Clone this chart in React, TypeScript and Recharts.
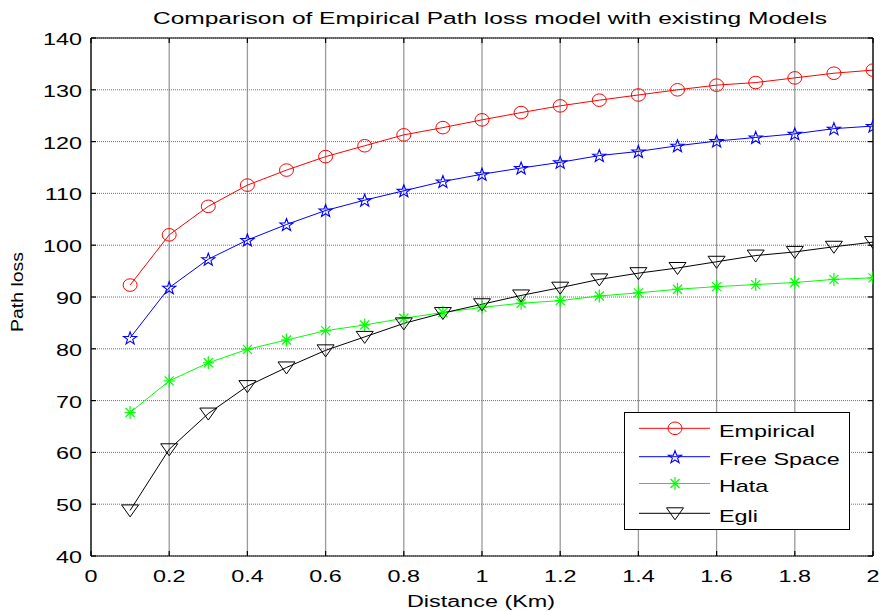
import React from 'react';
import { LineChart, Line, XAxis, YAxis, CartesianGrid, Legend } from 'recharts';

// ---- data ----
const distances = [0.1, 0.2, 0.3, 0.4, 0.5, 0.6, 0.7, 0.8, 0.9, 1.0, 1.1, 1.2, 1.3, 1.4, 1.5, 1.6, 1.7, 1.8, 1.9, 2.0];
const empirical = [92.3, 102.0, 107.5, 111.6, 114.5, 117.1, 119.2, 121.3, 122.7, 124.2, 125.6, 126.9, 128.0, 129.0, 130.0, 130.9, 131.4, 132.3, 133.2, 133.8];
const freeSpace = [82.1, 91.8, 97.3, 101.0, 104.0, 106.7, 108.7, 110.5, 112.3, 113.7, 114.9, 116.0, 117.3, 118.1, 119.2, 120.1, 120.8, 121.5, 122.5, 123.0];
const hata = [67.7, 73.8, 77.3, 79.9, 81.7, 83.5, 84.6, 85.9, 87.0, 88.0, 88.8, 89.3, 90.2, 90.8, 91.5, 92.0, 92.4, 92.8, 93.4, 93.7];
const egli = [48.8, 60.6, 67.5, 72.8, 76.4, 79.7, 82.3, 84.9, 86.9, 88.6, 90.3, 91.8, 93.4, 94.6, 95.6, 96.8, 98.0, 98.7, 99.7, 100.6];

const xTicks = [0, 0.2, 0.4, 0.6, 0.8, 1, 1.2, 1.4, 1.6, 1.8, 2];
const yTicks = [40, 50, 60, 70, 80, 90, 100, 110, 120, 130, 140];

const seriesNames = ['Empirical', 'Free Space', 'Hata', 'Egli'];
const seriesKeys = ['empirical', 'freeSpace', 'hata', 'egli'];
const seriesColors = ['#ff0000', '#0000ff', '#00ff00', '#000000'];
const seriesMarkers = ['circle', 'star', 'asterisk', 'triangle'];

const titleText = 'Comparison of Empirical Path loss model with existing Models';
const xLabel = 'Distance (Km)';
const yLabel = 'Path loss';

const data = distances.map((d, i) => ({
  d,
  empirical: empirical[i],
  freeSpace: freeSpace[i],
  hata: hata[i],
  egli: egli[i],
}));

const FONT = '"Liberation Sans", Arial, Helvetica, sans-serif';
const SX = 1.46;

function marker(kind: string, cx: number, cy: number, color: string, key?: any) {
  if (cx == null || cy == null || isNaN(cx) || isNaN(cy)) return <g key={key} />;
  if (kind === 'circle') {
    return <ellipse key={key} cx={cx} cy={cy} rx={7} ry={6.3} fill="none" stroke={color} strokeWidth={1} />;
  }
  if (kind === 'star') {
    const pts: string[] = [];
    const R = 6.6;
    const r = R * 0.4;
    for (let k = 0; k < 10; k++) {
      const rad = k % 2 === 0 ? R : r;
      const a = -Math.PI / 2 + (k * Math.PI) / 5;
      pts.push(`${(cx + rad * Math.cos(a) * 1.05).toFixed(2)},${(cy + 0.6 + rad * Math.sin(a)).toFixed(2)}`);
    }
    return <polygon key={key} points={pts.join(' ')} fill="none" stroke={color} strokeWidth={1.1} />;
  }
  if (kind === 'asterisk') {
    return (
      <g key={key} stroke={color} strokeWidth={1.2}>
        <line x1={cx} y1={cy - 6.5} x2={cx} y2={cy + 6.5} />
        <line x1={cx - 5.5} y1={cy} x2={cx + 5.5} y2={cy} />
        <line x1={cx - 4.5} y1={cy - 4.5} x2={cx + 4.5} y2={cy + 4.5} />
        <line x1={cx - 4.5} y1={cy + 4.5} x2={cx + 4.5} y2={cy - 4.5} />
      </g>
    );
  }
  // triangle pointing down
  return (
    <polygon
      key={key}
      points={`${cx - 8.5},${cy - 5.5} ${cx + 8.5},${cy - 5.5} ${cx},${cy + 6.5}`}
      fill="none"
      stroke={color}
      strokeWidth={1}
    />
  );
}

const XTick = (props: any) => {
  const { x, y, payload } = props;
  return (
    <g transform={`translate(${x},${y + 31})`}>
      <text transform={`scale(${SX},1)`} textAnchor="middle" fontSize={16} fontFamily={FONT} fill="#000">
        {String(payload.value)}
      </text>
    </g>
  );
};

const YTick = (props: any) => {
  const { x, y, payload } = props;
  return (
    <g transform={`translate(${x - 14},${y + 7})`}>
      <text transform={`scale(${SX},1)`} textAnchor="end" fontSize={16} fontFamily={FONT} fill="#000">
        {String(payload.value)}
      </text>
    </g>
  );
};

const EmptyTick = () => <g />;

const legendRows = [16.3, 44.7, 71.5, 101.3];

const LegendBox = () => (
  <svg width={226} height={118} style={{ display: 'block' }}>
    <rect x={0.5} y={0.5} width={225} height={117} fill="#fff" stroke="#000" strokeWidth={1} />
    {seriesNames.map((name, i) => {
      const y = legendRows[i];
      return (
        <g key={name}>
          <line x1={15} x2={86} y1={y} y2={y} stroke={seriesColors[i]} strokeWidth={1} />
          {marker(seriesMarkers[i], 51, y, seriesColors[i])}
          <g transform={`translate(95,${y + 8.5})`}>
            <text transform={`scale(${SX},1)`} fontSize={16} fontFamily={FONT} fill="#000">
              {name}
            </text>
          </g>
        </g>
      );
    })}
  </svg>
);

export default function App() {
  return (
    <div style={{ position: 'absolute', left: 0, top: 0, width: 883, height: 612, background: '#fff' }}>
      <LineChart width={883} height={612} data={data} margin={{ top: 37, right: 9, bottom: 26, left: 31 }}>
        <CartesianGrid horizontal={false} stroke="#9a9a9a" strokeWidth={1.3} />
        <CartesianGrid vertical={false} stroke="#707070" strokeDasharray="1 1" strokeWidth={1} />
        <XAxis
          dataKey="d"
          type="number"
          domain={[0, 2]}
          ticks={xTicks}
          interval={0}
          height={30}
          allowDataOverflow
          axisLine={{ stroke: '#000', strokeWidth: 1.2 }}
          tickLine={{ stroke: '#000', strokeWidth: 1.2 }}
          tickSize={-5}
          tickMargin={0}
          tick={<XTick />}
        />
        <XAxis
          xAxisId="top"
          dataKey="d"
          type="number"
          orientation="top"
          domain={[0, 2]}
          ticks={xTicks}
          interval={0}
          height={1}
          allowDataOverflow
          axisLine={{ stroke: '#000', strokeWidth: 1.2 }}
          tickLine={{ stroke: '#000', strokeWidth: 1.2 }}
          tickSize={-5}
          tick={<EmptyTick />}
        />
        <YAxis
          type="number"
          domain={[40, 140]}
          ticks={yTicks}
          interval={0}
          width={60}
          allowDataOverflow
          axisLine={{ stroke: '#000', strokeWidth: 1.2 }}
          tickLine={{ stroke: '#000', strokeWidth: 1.2 }}
          tickSize={-5}
          tickMargin={0}
          tick={<YTick />}
        />
        <YAxis
          yAxisId="right"
          type="number"
          orientation="right"
          domain={[40, 140]}
          ticks={yTicks}
          interval={0}
          width={1}
          allowDataOverflow
          axisLine={{ stroke: '#000', strokeWidth: 1.2 }}
          tickLine={{ stroke: '#000', strokeWidth: 1.2 }}
          tickSize={-5}
          tick={<EmptyTick />}
        />
        {seriesKeys.map((k, i) => (
          <Line
            key={k}
            dataKey={k}
            name={seriesNames[i]}
            type="linear"
            stroke={seriesColors[i]}
            strokeWidth={1}
            isAnimationActive={false}
            activeDot={false}
            dot={(p: any) => marker(seriesMarkers[i], p.cx, p.cy, seriesColors[i], `${k}-${p.index}`)}
          />
        ))}
        <Legend
          layout="vertical"
          align="center"
          verticalAlign="middle"
          content={<LegendBox />}
          wrapperStyle={{ left: 624, top: 412, width: 226, height: 118, margin: 0, padding: 0 }}
        />
      </LineChart>
      <svg
        width={883}
        height={612}
        style={{ position: 'absolute', left: 0, top: 0, pointerEvents: 'none' }}
      >
        <text
          x={490}
          y={24}
          textAnchor="middle"
          fontSize={16}
          fontFamily={FONT}
          textLength={674}
          lengthAdjust="spacingAndGlyphs"
          fill="#000"
        >
          {titleText}
        </text>
        <text
          x={481}
          y={607}
          textAnchor="middle"
          fontSize={16}
          fontFamily={FONT}
          textLength={148}
          lengthAdjust="spacingAndGlyphs"
          fill="#000"
        >
          {xLabel}
        </text>
        <text
          transform="translate(23,292) rotate(-90)"
          textAnchor="middle"
          fontSize={16}
          fontFamily={FONT}
          textLength={80}
          lengthAdjust="spacingAndGlyphs"
          fill="#000"
        >
          {yLabel}
        </text>
      </svg>
    </div>
  );
}
